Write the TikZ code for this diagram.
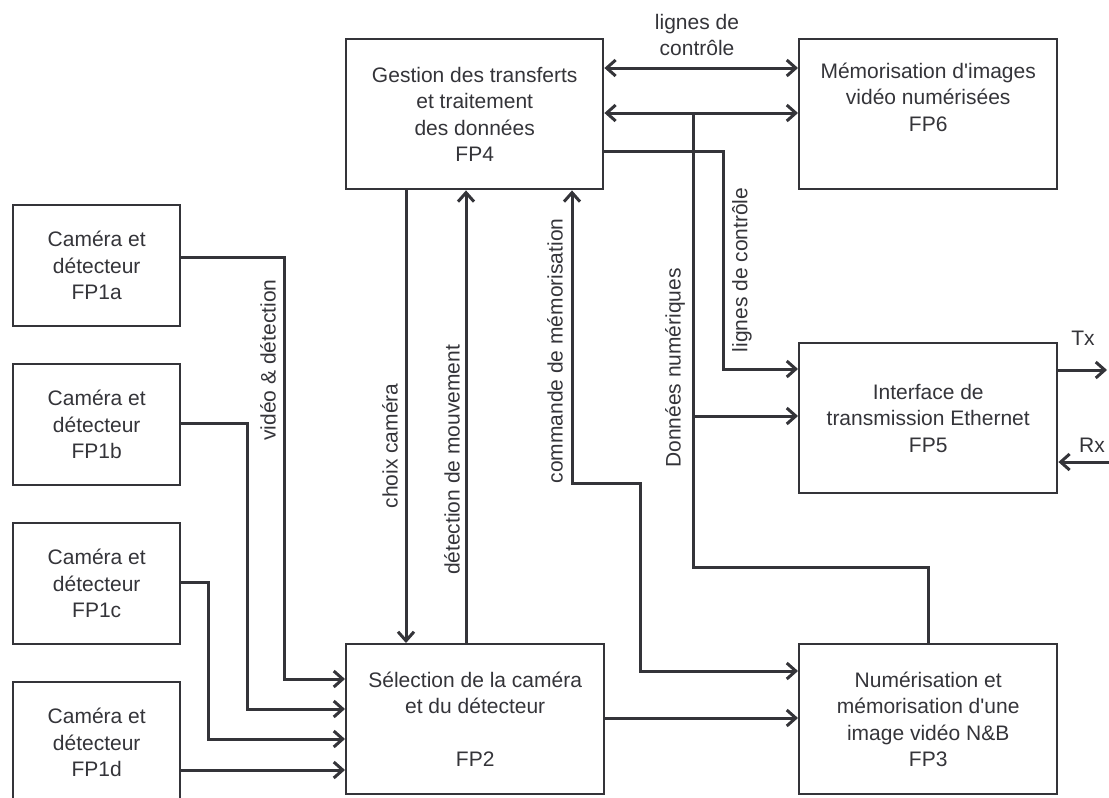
\documentclass[tikz,border=0pt]{standalone}
\usepackage{fontspec}
\setmainfont{Liberation Sans}
\usetikzlibrary{arrows.meta}
\definecolor{ink}{RGB}{52,52,57}
\newcommand{\labfont}{\fontsize{21}{26.5}\selectfont}

\begin{document}
\begin{tikzpicture}[x=1pt,y=1pt,yscale=-1,xscale=1,
  box/.style={draw=ink, line width=2.4pt, inner sep=0pt, align=center, text=ink, font=\labfont, minimum width=258, minimum height=150},
  cambox/.style={box, minimum width=167, minimum height=121},
  lbl/.style={inner sep=0.75pt, align=center, text=ink, font=\labfont},
  wire/.style={draw=ink, line width=3pt},
  tip/.style={-{Straight Barb[length=9pt,width=16pt]}},
  tips/.style={{Straight Barb[length=9pt,width=16pt]}-{Straight Barb[length=9pt,width=16pt]}}]
\useasboundingbox (0,0) rectangle (1109,798);

%Shape: Rectangle [id:dp4417205938816122] 
\draw (12,204) node [anchor=north west][cambox] (fp1a) {Caméra et\\détecteur\\FP1a};
%Shape: Rectangle [id:dp2085937351064618] 
\draw (12,363) node [anchor=north west][cambox] (fp1b) {Caméra et\\détecteur\\FP1b};
%Shape: Rectangle [id:dp7761590824361502] 
\draw (12,522) node [anchor=north west][cambox] (fp1c) {Caméra et\\détecteur\\FP1c};
%Shape: Rectangle [id:dp9130651872203348] 
\draw (12,681) node [anchor=north west][cambox] (fp1d) {Caméra et\\détecteur\\FP1d};
%Shape: Rectangle [id:dp3392710468520177] 
\draw (345,38) node [anchor=north west][box, minimum width=257] (fp4) {Gestion des transferts\\et traitement\\des données\\FP4};
%Shape: Rectangle [id:dp6659013287245018] 
\draw (798,38) node [anchor=north west][box] (fp6) {Mémorisation d\textquotesingle images\\vidéo numérisées\\FP6\\[8pt]};
%Shape: Rectangle [id:dp1247780963558301] 
\draw (798,342) node [anchor=north west][box] (fp5) {Interface de\\transmission Ethernet\\FP5};
%Shape: Rectangle [id:dp5803316479120445] 
\draw (345,643) node [anchor=north west][box] (fp2) {Sélection de la caméra\\et du détecteur\\[26.5pt]FP2};
%Shape: Rectangle [id:dp8871046239571903] 
\draw (798,643) node [anchor=north west][box] (fp3) {Numérisation et\\mémorisation d\textquotesingle une\\image vidéo N\&B\\FP3};

\coordinate (busj) at (693,113);
\coordinate (txend) at (1107,370);
\coordinate (rxstart) at (1109,462);

%Straight Lines [id:da5127739046613380] 
\draw [wire, tips] (fp4.east |- 0,68) -- (fp6.west |- 0,68);
%Straight Lines [id:da0836215571942266] 
\draw [wire, tips] (fp4.east |- 0,113) -- (fp6.west |- 0,113);
%Straight Lines [id:da7290143318652404] 
\draw [wire] (busj) -- (693,567) -| (fp3.north);
%Straight Lines [id:da3316047825590719] 
\draw [wire, tip] (693,416) -- (fp5.west |- 0,416);
%Straight Lines [id:da9942713050687261] 
\draw [wire, tip] (fp4.east |- 0,151) -| (723,369) -- (fp5.west |- 0,369);
%Straight Lines [id:da2649180315274719] 
\draw [wire, tip] (fp4.south -| 406,0) -- (fp2.north -| 406,0);
%Straight Lines [id:da6014528893367752] 
\draw [wire, tip] (fp2.north -| 466,0) -- (fp4.south -| 466,0);
%Straight Lines [id:da1875290636742539] 
\draw [wire, tips] (fp4.south -| 572,0) -- (572,483) -| (640,671) -- (fp3.west |- 0,671);
%Straight Lines [id:da4409826137759015] 
\draw [wire, tip] (fp2.east |- 0,718) -- (fp3.west |- 0,718);
%Straight Lines [id:da8352061749015373] 
\draw [wire, tip] (fp5.east |- 0,370) -- (txend);
%Straight Lines [id:da3968142205570781] 
\draw [wire, tip] (rxstart) -- (fp5.east |- 0,462);
%Straight Lines [id:da7713529080461845] 
\draw [wire, tip] (fp1a.east |- 0,257) -| (284,679) -- (fp2.west |- 0,679);
%Straight Lines [id:da2230917465518839] 
\draw [wire, tip] (fp1b.east |- 0,423) -| (247,709) -- (fp2.west |- 0,709);
%Straight Lines [id:da6602174315980827] 
\draw [wire, tip] (fp1c.east |- 0,582) -| (208,739) -- (fp2.west |- 0,739);
%Straight Lines [id:da0419358826671573] 
\draw [wire, tip] (fp1d.east |- 0,770) -- (fp2.west |- 0,770);

% Text Node
\draw (697,35) node [lbl] (ctltop) {lignes de\\contrôle};
% Text Node
\draw (1083,338) node [lbl] (tx) {Tx};
% Text Node
\draw (1092,445) node [lbl] (rx) {Rx};
% Text Node
\draw (268,360) node [lbl, rotate=90] (video) {vidéo \& détection};
% Text Node
\draw (390,446) node [lbl, rotate=90] (choix) {choix caméra};
% Text Node
\draw (452,460) node [lbl, rotate=90] (mouv) {détection de mouvement};
% Text Node
\draw (555,351) node [lbl, rotate=90] (cmde) {commande de mémorisation};
% Text Node
\draw (675,368) node [lbl, rotate=90] (donnees) {Données numériques};
% Text Node
\draw (742,270) node [lbl, rotate=90] (ctlright) {lignes de contrôle};
\end{tikzpicture}
\end{document}
